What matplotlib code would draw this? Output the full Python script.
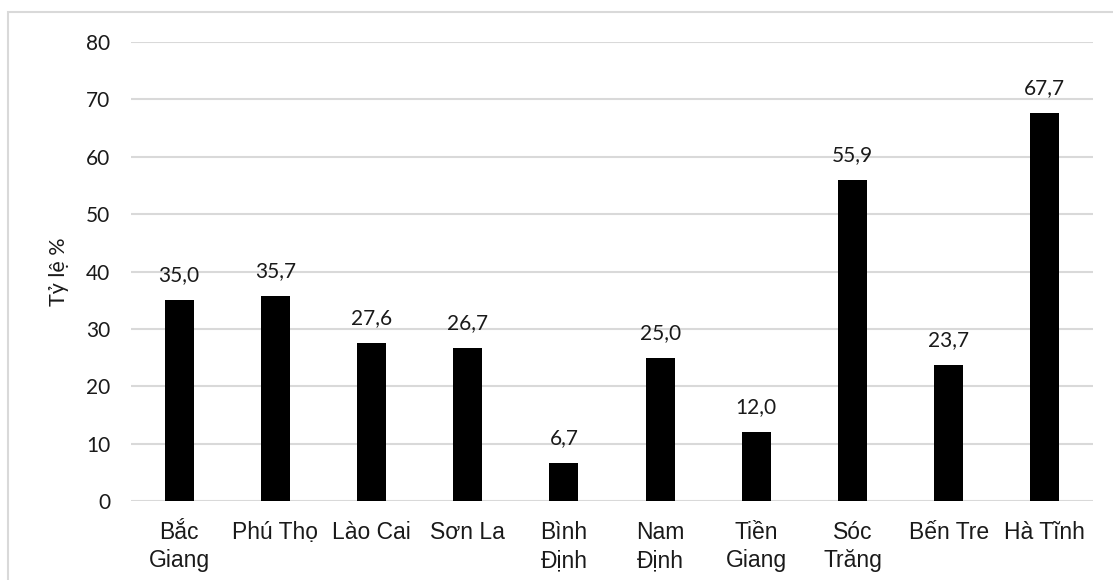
import matplotlib.pyplot as plt
from matplotlib.patches import Rectangle

provinces = ["Bắc\nGiang", "Phú Thọ", "Lào Cai", "Sơn La", "Bình\nĐịnh",
             "Nam\nĐịnh", "Tiền\nGiang", "Sóc\nTrăng", "Bến Tre", "Hà Tĩnh"]
rates = [35.0, 35.7, 27.6, 26.7, 6.7, 25.0, 12.0, 55.9, 23.7, 67.7]
y_ticks = [0, 10, 20, 30, 40, 50, 60, 70, 80]

NUM_FONT = ["Lato", "DejaVu Sans"]
CAT_FONT = ["Liberation Sans", "DejaVu Sans"]
GRID = "#d9d9d9"
INK = "#1a1a1a"

fig = plt.figure(figsize=(11.13, 5.8), dpi=100)
ax = fig.add_axes([0.1177, 0.136, 0.8643, 0.7914])

# light frame around the chart area
fig.patches.append(Rectangle((8 / 1113, -0.2), 1.2, 1.2 - 12 / 580,
                             transform=fig.transFigure, fill=False,
                             edgecolor=GRID, linewidth=1.5))

x = range(len(provinces))
ax.bar(x, rates, width=0.30, color="black", zorder=3)
for xi, v in zip(x, rates):
    ax.text(xi, v + 2.6, f"{v:.1f}".replace(".", ","), ha="center", va="bottom",
            fontsize=15, family=NUM_FONT, color=INK)

ax.set_xlim(-0.5, len(provinces) - 0.5)
ax.set_ylim(0, 80)
ax.set_yticks(y_ticks)
ax.set_yticklabels([str(t) for t in y_ticks], family=NUM_FONT, fontsize=15,
                   color=INK)
ax.set_xticks(list(x))
ax.set_xticklabels(provinces, family=CAT_FONT, fontsize=16.5, color=INK,
                   linespacing=1.3)
ax.tick_params(axis="y", length=0, pad=15)
ax.tick_params(axis="x", length=0, pad=14)
ax.yaxis.grid(True, color=GRID, linewidth=1.5, zorder=0)
for s in ax.spines.values():
    s.set_visible(False)
ax.set_ylabel("Tỷ lệ %", family=NUM_FONT, fontsize=15.5, color=INK, labelpad=12)

fig.savefig("out.png", dpi=100)
